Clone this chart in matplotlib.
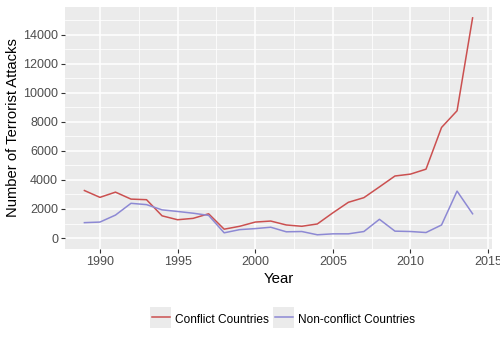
import numpy as np
import matplotlib.pyplot as plt
from matplotlib.ticker import MultipleLocator
from matplotlib.patches import Rectangle
from matplotlib.transforms import IdentityTransform

years = np.arange(1989, 2015)
conflict = [3270, 2800, 3160, 2680, 2640, 1530, 1260, 1355, 1670, 610, 810, 1100, 1170,
            900, 810, 970, 1735, 2460, 2780, 3520, 4270, 4400, 4740, 7610, 8760, 15150]
non_conflict = [1060, 1100, 1580, 2390, 2300, 1940, 1830, 1710, 1560, 360, 580, 650, 745,
                430, 450, 225, 290, 290, 450, 1290, 475, 450, 380, 900, 3230, 1670]
labels = ['Conflict Countries', 'Non-conflict Countries']
colors = ['#CB5050', '#8D89D4']

plt.rcParams['font.family'] = ['Liberation Sans', 'DejaVu Sans']

fig = plt.figure(figsize=(5, 3.44), dpi=100)
ax = fig.add_axes([0.13, 0.276, 0.854, 0.704])
ax.set_facecolor('#EBEBEB')

ax.plot(years, conflict, color=colors[0], lw=1.1, label=labels[0])
ax.plot(years, non_conflict, color=colors[1], lw=1.1, label=labels[1])

ax.set_xlim(1987.75, 2015.25)
ax.set_ylim(-757, 15907)
ax.xaxis.set_major_locator(MultipleLocator(5))
ax.xaxis.set_minor_locator(MultipleLocator(2.5))
ax.yaxis.set_major_locator(MultipleLocator(2000))
ax.yaxis.set_minor_locator(MultipleLocator(1000))
ax.grid(which='major', color='white', lw=1.1)
ax.grid(which='minor', color='white', lw=0.55)
ax.set_axisbelow(True)
for s in ax.spines.values():
    s.set_visible(False)
ax.tick_params(which='major', length=3, width=0.8, color='#333333', labelcolor='#4D4D4D', labelsize=9.0, pad=2)
ax.tick_params(which='minor', length=0)

ax.set_xlabel('Year', fontsize=10.8, labelpad=3)
ax.set_ylabel('Number of Terrorist Attacks', fontsize=10.6, labelpad=2)

leg = fig.legend(loc='center', bbox_to_anchor=(0.567, 0.073), ncol=2, frameon=False,
                 fontsize=8.6, handlelength=1.5, handleheight=1.5, columnspacing=0.5,
                 handletextpad=0.45)
for h in leg.legend_handles:
    h.set_linewidth(1.1)

# grey key boxes behind legend lines, like ggplot
fig.canvas.draw()
for h in leg.legend_handles:
    bb = h.get_window_extent()
    cx, cy = (bb.x0 + bb.x1) / 2, (bb.y0 + bb.y1) / 2
    fig.patches.append(Rectangle((cx - 10.5, cy - 10.5), 21, 21, transform=IdentityTransform(),
                                 facecolor='#EBEBEB', edgecolor='none', zorder=1))

fig.savefig('out.png', dpi=100)
